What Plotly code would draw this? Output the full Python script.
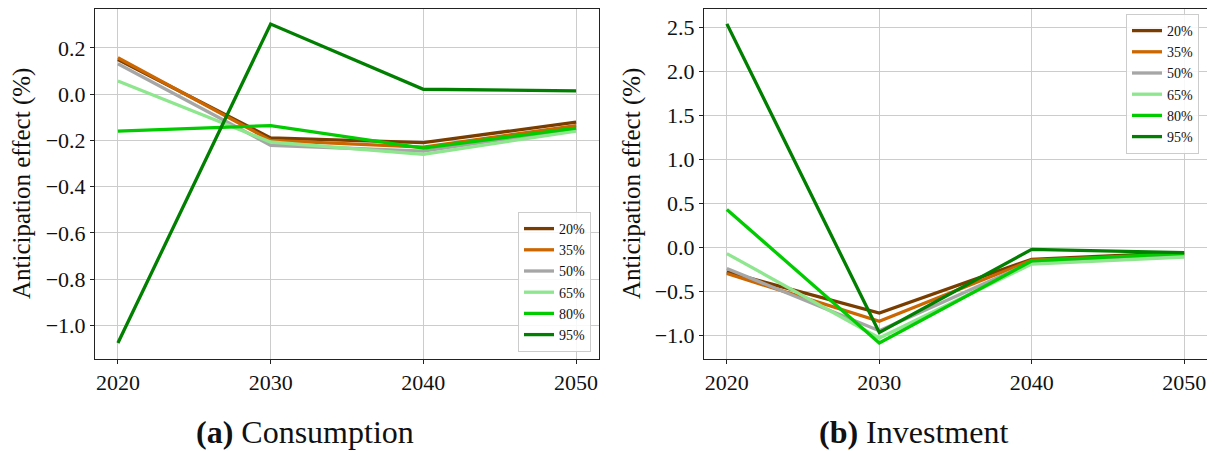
import plotly.graph_objects as go

### Data ###
years  = [2020, 2030, 2040, 2050]
shares = ['20%', '35%', '50%', '65%', '80%', '95%']

# (a) Consumption
cons_20 = [0.150, -0.189, -0.210, -0.121]
cons_35 = [0.157, -0.200, -0.229, -0.136]
cons_50 = [0.131, -0.221, -0.246, -0.150]
cons_65 = [0.057, -0.207, -0.260, -0.160]
cons_80 = [-0.160, -0.136, -0.233, -0.147]
cons_95 = [-1.076, 0.303, 0.021, 0.014]

# (b) Investment
inv_20 = [-0.280, -0.747, -0.136, -0.060]
inv_35 = [-0.298, -0.840, -0.147, -0.080]
inv_50 = [-0.240, -0.947, -0.170, -0.100]
inv_65 = [-0.072, -1.030, -0.190, -0.110]
inv_80 = [0.430, -1.087, -0.155, -0.068]
inv_95 = [2.536, -0.966, -0.023, -0.060]

consumption = [cons_20, cons_35, cons_50, cons_65, cons_80, cons_95]
investment  = [inv_20, inv_35, inv_50, inv_65, inv_80, inv_95]

#            brown      orange     gray       lightgreen green      darkgreen
lineColor = ['#7a3d00', '#cc6600', '#a6a6a6', '#8ee68e', '#00cc00', '#007f00']

# page body has an 8px margin, so the figure is a bit smaller and shifted
OFF    = 8
W, H   = 1215 - OFF, 451 - OFF
font   = 'Liberation Serif'
yTitle = 'Anticipation effect (%)'

def px_x(p):
    return (p - OFF) / W

def px_y(p):
    return min(1.0, (H - (p - OFF)) / H)

fig = go.Figure()

for name, c, yc, yi in zip(shares, lineColor, consumption, investment):
    fig.add_trace(go.Scatter(x=years, y=yc, mode='lines', name=name,
                             line=dict(color=c, width=3.3),
                             xaxis='x', yaxis='y', legend='legend'))
    fig.add_trace(go.Scatter(x=years, y=yi, mode='lines', name=name,
                             line=dict(color=c, width=3.3),
                             xaxis='x2', yaxis='y2', legend='legend2'))

axis_style = dict(showline=True, linewidth=1, linecolor='#222222', mirror=True,
                  showgrid=True, gridwidth=1, gridcolor='#cccccc', zeroline=False,
                  ticks='outside', ticklen=4, tickcolor='#222222',
                  tickfont=dict(family=font, size=22, color='#111111'))

ydom = [px_y(359), px_y(9)]

fig.update_layout(
    width=W, height=H,
    margin=dict(l=0, r=0, t=0, b=0),
    paper_bgcolor='white', plot_bgcolor='white',
    font=dict(family=font, color='#111111'),
    xaxis =dict(axis_style, domain=[px_x(95), px_x(599)], range=[2018.5, 2051.5],
                tickvals=years, anchor='y'),
    yaxis =dict(axis_style, domain=ydom, range=[-1.145, 0.368], dtick=0.2,
                tickformat='.1f', anchor='x'),
    xaxis2=dict(axis_style, domain=[px_x(704), px_x(1207)], range=[2018.5, 2051.5],
                tickvals=years, anchor='y2'),
    yaxis2=dict(axis_style, domain=ydom, range=[-1.268, 2.705], dtick=0.5,
                tickformat='.1f', anchor='x2'),
    legend=dict(x=px_x(591), y=px_y(352), xanchor='right', yanchor='bottom',
                bgcolor='rgba(255,255,255,0.85)', bordercolor='#cccccc', borderwidth=1,
                font=dict(family=font, size=14), tracegroupgap=0),
    legend2=dict(x=px_x(1199), y=px_y(14), xanchor='right', yanchor='top',
                 bgcolor='rgba(255,255,255,0.85)', bordercolor='#cccccc', borderwidth=1,
                 font=dict(family=font, size=14), tracegroupgap=0),
)

# y axis titles
for xc in (22, 632):
    fig.add_annotation(x=px_x(xc), y=px_y(184), xref='paper', yref='paper',
                       xanchor='center', yanchor='middle',
                       text=yTitle, textangle=-90, showarrow=False,
                       font=dict(family=font, size=25, color='#111111'))

# sub captions
fig.add_annotation(x=px_x(305), y=px_y(432), xref='paper', yref='paper',
                   xanchor='center', yanchor='middle',
                   text='<b>(a)</b> Consumption', showarrow=False,
                   font=dict(family=font, size=32, color='#111111'))
fig.add_annotation(x=px_x(913), y=px_y(432), xref='paper', yref='paper',
                   xanchor='center', yanchor='middle',
                   text='<b>(b)</b> Investment', showarrow=False,
                   font=dict(family=font, size=32, color='#111111'))

fig.write_html('out.html')
